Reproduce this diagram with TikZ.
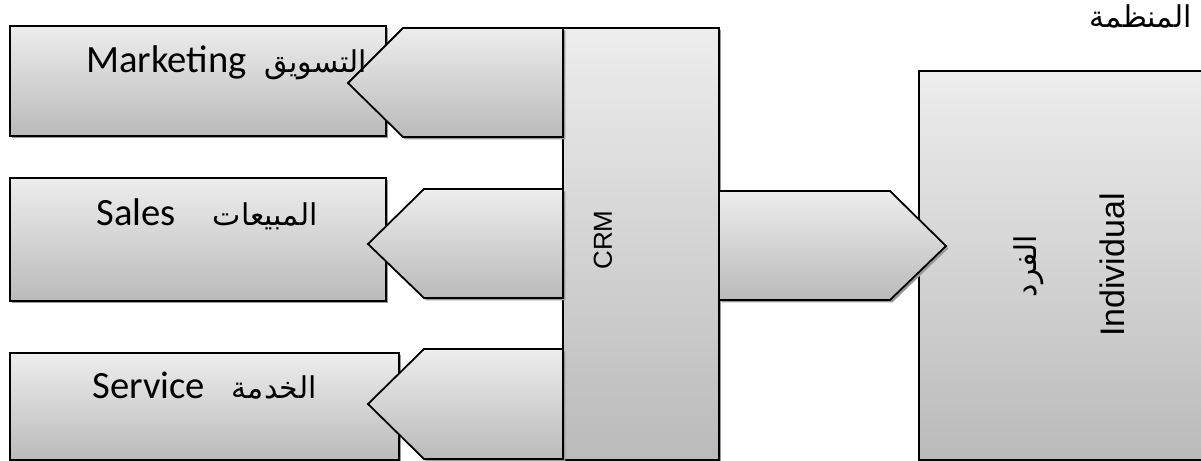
\documentclass[tikz,border=0pt]{standalone}
\usepackage{fontspec}
\setmainfont{Carlito}
\newfontfamily\arabicfont[Script=Arabic]{DejaVu Sans}
\newfontfamily\arialfont{Liberation Sans}
\TeXXeTstate=1
\usetikzlibrary{shadows,positioning}

\tikzset{
  panel/.style={draw, line width=0.9pt, top color=black!7, bottom color=black!27,
    drop shadow={shadow xshift=1.2pt, shadow yshift=-1.2pt, fill=black!40, opacity=1},
    inner sep=0pt, outer sep=0pt},
  chevron/.style={panel, line join=miter},
  latin/.style={font=\fontsize{19.3}{22}\selectfont, inner sep=0pt},
  arabic/.style={font=\arabicfont\fontsize{15}{18}\selectfont, inner sep=0pt},
  sans/.style={font=\arialfont\fontsize{#1}{20}\selectfont, inner sep=0pt},
}

\begin{document}
\begin{tikzpicture}[x=0.5pt, y=-0.5pt]
\useasboundingbox (0,0) rectangle (1201,461);

\node[panel, minimum width=188pt, minimum height=55pt] (mkt) at (198,81) {};
\node[panel, minimum width=188pt, minimum height=61.5pt] (sal) at (198,239.5) {};
\node[panel, minimum width=194.5pt, minimum height=53.5pt] (srv) at (204.5,406.5) {};
\node[panel, minimum width=78pt, minimum height=216pt] (crm) at (641,244) {};
\node[panel, minimum width=148pt, minimum height=194.5pt] (ind) at (1067,265.5) {};

\draw[chevron] (crm.west |- 0,28) -- (403,28) -- (348,83) -- (403,137) -- (crm.west |- 0,137) -- cycle;
\draw[chevron] (crm.west |- 0,189) -- (424,189) -- (368,244) -- (424,298) -- (crm.west |- 0,298) -- cycle;
\draw[chevron] (crm.west |- 0,349) -- (424,349) -- (368,404) -- (424,459) -- (crm.west |- 0,459) -- cycle;
\draw[chevron] (crm.east |- 0,191) -- (890,191) -- (946,246) -- (890,300) -- (crm.east |- 0,300) -- cycle;

\node[latin, anchor=base west] (mktl) at (86,72) {Marketing};
\node[arabic, anchor=base east] (mkta) at (367,72) {\beginR التسويق\endR};
\node[latin, anchor=base west] (sall) at (96,225) {Sales};
\node[arabic, anchor=base east] (sala) at (318,225) {\beginR المبيعات\endR};
\node[latin, anchor=base west] (srvl) at (92,398) {Service};
\node[arabic, anchor=base east] (srva) at (317,398) {\beginR الخدمة\endR};

\node[sans=13, rotate=90] (crml) at (603,240) {CRM};
\node[sans=17, rotate=90] (indl) at (1112,265) {Individual};
\node[arabic, rotate=90] (inda) at (1029,266) {\beginR الفرد\endR};
\node[arabic, anchor=base east] (org) at (1192,27) {\beginR المنظمة\endR};
\end{tikzpicture}
\end{document}
